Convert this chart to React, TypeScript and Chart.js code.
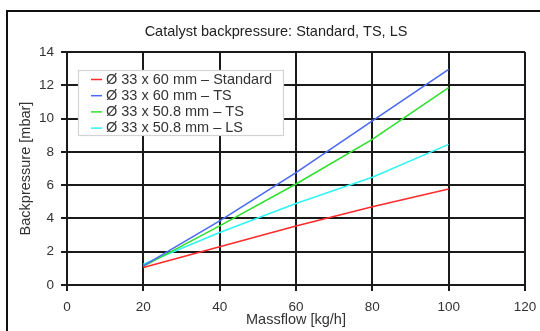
import { useEffect, useRef } from "react";
import { Chart, registerables } from "chart.js";

Chart.register(...registerables);

// Massflow sample points [kg/h]
const massflow = [20, 40, 60, 80, 100];

// Backpressure [mbar] per catalyst variant
const standard60 = [1.05, 2.3, 3.55, 4.7, 5.77];
const ts60 = [1.15, 3.85, 6.75, 9.86, 12.96];
const ts508 = [1.12, 3.55, 6.07, 8.75, 11.86];
const ls508 = [1.25, 3.15, 4.9, 6.47, 8.45];

const seriesLabels = [
  "Ø 33 x 60 mm – Standard",
  "Ø 33 x 60 mm – TS",
  "Ø 33 x 50.8 mm – TS",
  "Ø 33 x 50.8 mm – LS",
];
const seriesColors = ["#ff2a2a", "#4a6af5", "#2fe02f", "#30f4f4"];

const xTicks = [0, 20, 40, 60, 80, 100, 120];
const yTicks = [0, 2, 4, 6, 8, 10, 12, 14];

const chartTitle = "Catalyst backpressure: Standard, TS, LS";

const FONT = "'Liberation Sans', Arial, sans-serif";

// Chart heading, centred over the whole frame
const headingPlugin = {
  id: "heading",
  afterDraw(chart: any) {
    const { ctx } = chart;
    ctx.save();
    ctx.font = `14.5px ${FONT}`;
    ctx.fillStyle = "#222222";
    ctx.textAlign = "center";
    ctx.textBaseline = "middle";
    ctx.fillText(chartTitle, 276, 32);
    ctx.restore();
  },
};

// Legend box drawn inside the plot area, upper left
const insideLegend = {
  id: "insideLegend",
  afterDraw(chart: any) {
    const { ctx, chartArea } = chart;
    const x0 = chartArea.left + 11;
    const y0 = chartArea.top + 18;
    const w = 205;
    const h = 65;
    ctx.save();
    ctx.fillStyle = "#ffffff";
    ctx.fillRect(x0, y0, w, h);
    ctx.strokeStyle = "#d4d4d4";
    ctx.lineWidth = 1.2;
    ctx.strokeRect(x0 + 0.5, y0 + 0.5, w, h);
    ctx.font = `14.5px ${FONT}`;
    ctx.textBaseline = "middle";
    ctx.textAlign = "left";
    chart.data.datasets.forEach((ds: any, i: number) => {
      const cy = y0 + 9.5 + i * 16.2;
      ctx.strokeStyle = ds.borderColor;
      ctx.lineWidth = 1.5;
      ctx.beginPath();
      ctx.moveTo(x0 + 13, cy);
      ctx.lineTo(x0 + 24, cy);
      ctx.stroke();
      ctx.fillStyle = "#333333";
      ctx.fillText(ds.label, x0 + 28, cy);
    });
    ctx.restore();
  },
};

// Keep the axis boxes at fixed sizes so the plot area stays put
const fixSize = (prop: "width" | "height", size: number) => (s: any) => {
  s[prop] = size;
  s.paddingLeft = 0;
  s.paddingRight = 0;
  s.paddingTop = 0;
  s.paddingBottom = 0;
};

export default function App() {
  const canvasRef = useRef<HTMLCanvasElement | null>(null);

  useEffect(() => {
    if (!canvasRef.current) return;
    const series = [standard60, ts60, ts508, ls508];
    const chart = new Chart(canvasRef.current, {
      type: "line",
      data: {
        datasets: series.map((vals, i) => ({
          label: seriesLabels[i],
          data: massflow.map((x, j) => ({ x, y: vals[j] })),
          borderColor: seriesColors[i],
          backgroundColor: seriesColors[i],
          borderWidth: 1.6,
          pointRadius: 0,
          tension: 0,
        })),
      },
      options: {
        responsive: false,
        animation: false,
        layout: { padding: { left: 0, right: 15, top: 52, bottom: 0 } },
        plugins: {
          legend: { display: false },
          tooltip: { enabled: false },
          title: { display: false },
        },
        scales: {
          x: {
            type: "linear",
            min: 0,
            max: 120,
            afterFit: fixSize("height", 46),
            afterBuildTicks: (s: any) => {
              s.ticks = xTicks.map((v) => ({ value: v }));
            },
            grid: { color: "#1a1a1a", lineWidth: 2, tickLength: 6, drawTicks: true },
            border: { color: "#1a1a1a", width: 2 },
            ticks: {
              color: "#333333",
              font: { family: FONT, size: 13.5 },
              padding: 8,
              maxRotation: 0,
            },
            title: {
              display: true,
              text: "Massflow [kg/h]",
              color: "#333333",
              font: { family: FONT, size: 14.5 },
              padding: { top: 0, bottom: 2 },
            },
          },
          y: {
            type: "linear",
            min: 0,
            max: 14,
            afterFit: fixSize("width", 67),
            afterBuildTicks: (s: any) => {
              s.ticks = yTicks.map((v) => ({ value: v }));
            },
            grid: { color: "#1a1a1a", lineWidth: 2, tickLength: 6, drawTicks: true },
            border: { color: "#1a1a1a", width: 2 },
            ticks: {
              color: "#333333",
              font: { family: FONT, size: 13.5 },
              padding: 7,
            },
            title: {
              display: true,
              text: "Backpressure [mbar]",
              color: "#333333",
              font: { family: FONT, size: 14.5 },
              padding: { top: 17, bottom: 0 },
            },
          },
        },
      },
      plugins: [headingPlugin, insideLegend],
    });
    return () => chart.destroy();
  }, []);

  return (
    <div
      style={{
        position: "absolute",
        left: 0,
        top: 0,
        width: 540,
        height: 331,
        overflow: "hidden",
        background: "#ffffff",
      }}
    >
      <div
        style={{
          position: "absolute",
          left: 6,
          top: 10,
          width: 600,
          height: 400,
          border: "2px solid #111111",
          boxSizing: "border-box",
        }}
      />
      <canvas
        ref={canvasRef}
        width={540}
        height={331}
        style={{ position: "absolute", left: 0, top: 0, width: 540, height: 331 }}
      />
    </div>
  );
}
